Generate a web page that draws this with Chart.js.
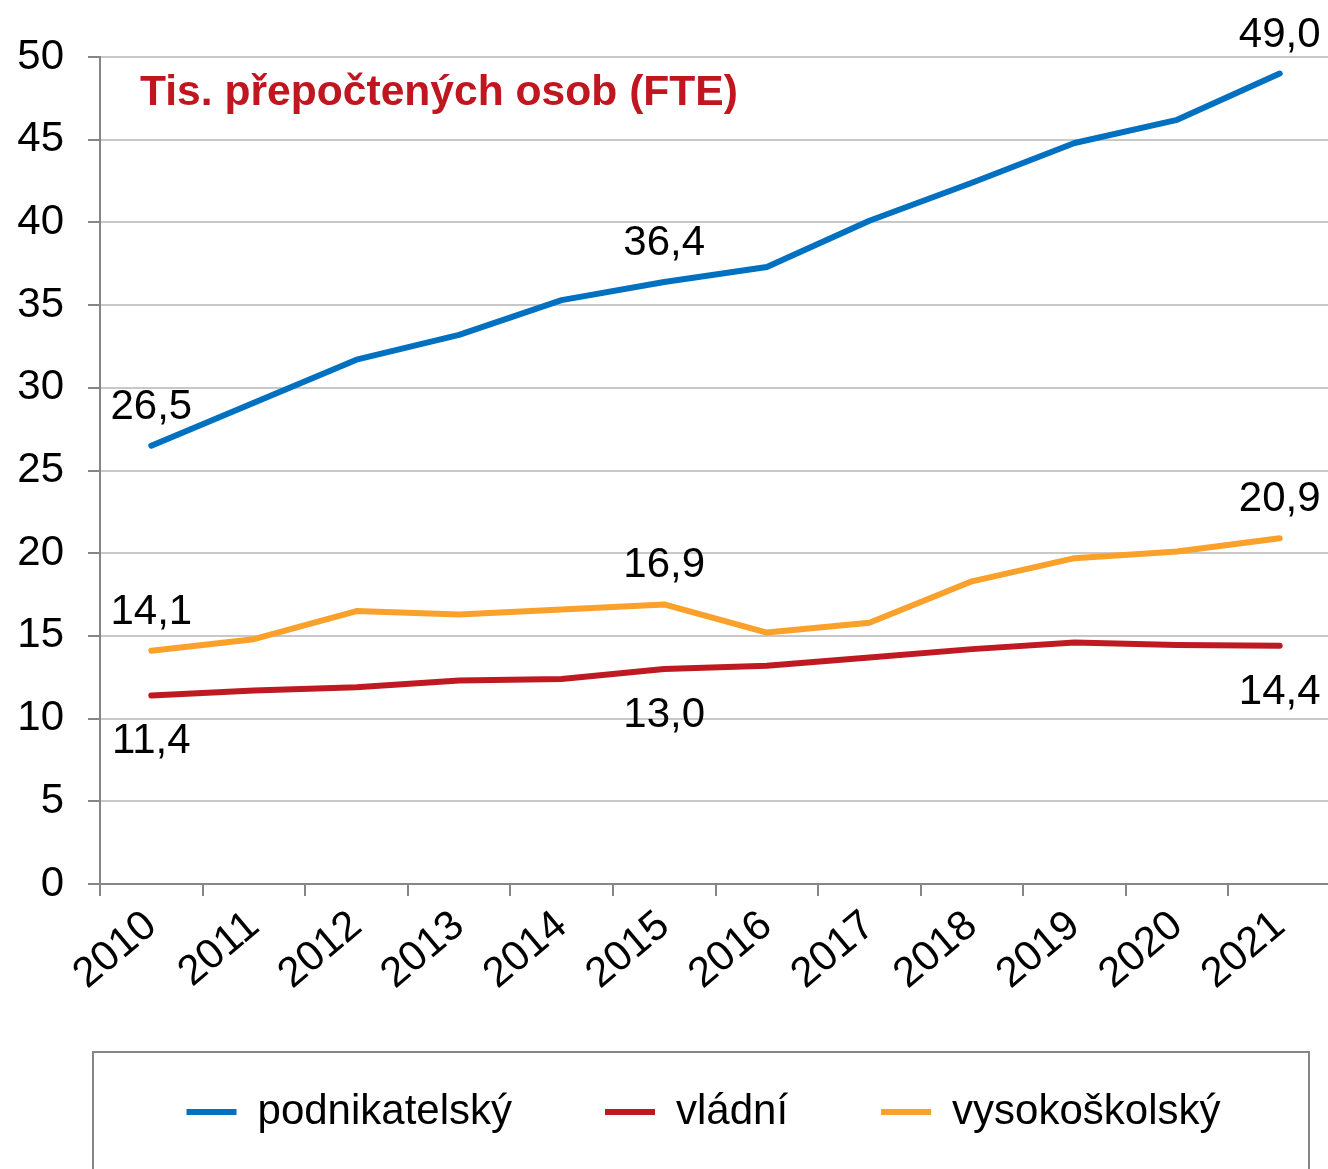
<!DOCTYPE html>
<html>
<head>
<meta charset="utf-8">
<script src="https://cdn.jsdelivr.net/npm/chart.js@4/dist/chart.umd.min.js"></script>
<style>
body { margin: 0; overflow: hidden; background: #fff; }
canvas { display: block; }
</style>
</head>
<body>
<canvas id="myChart" width="1332" height="1169"></canvas>
<script>
var years = ["2010", "2011", "2012", "2013", "2014", "2015", "2016", "2017", "2018", "2019", "2020", "2021"];
var podnikatelsky = [26.5, 29.1, 31.7, 33.2, 35.3, 36.4, 37.3, 40.1, 42.4, 44.8, 46.2, 49.0];
var vladni = [11.4, 11.7, 11.9, 12.3, 12.4, 13.0, 13.2, 13.7, 14.2, 14.6, 14.45, 14.4];
var vysokoskolsky = [14.1, 14.8, 16.5, 16.3, 16.6, 16.9, 15.2, 15.8, 18.3, 19.7, 20.1, 20.9];
var yTicks = [0, 5, 10, 15, 20, 25, 30, 35, 40, 45, 50];
var labelIdx = [0, 5, 11];
var titleText = "Tis. přepočtených osob (FTE)";

var font = '"Liberation Sans", Arial, sans-serif';
var axisGray = "#868686";

// values written next to the first, middle and last point
var pointLabels = {
  id: "pointLabels",
  afterDatasetsDraw: function(chart) {
    var ctx = chart.ctx;
    ctx.save();
    ctx.font = "42px " + font;
    ctx.fillStyle = "#000";
    ctx.textAlign = "center";
    ctx.textBaseline = "alphabetic";
    chart.data.datasets.forEach(function(ds, d) {
      var meta = chart.getDatasetMeta(d);
      labelIdx.forEach(function(i) {
        var p = meta.data[i];
        var txt = ds.data[i].toFixed(1).replace(".", ",");
        if (ds.labelBelow) {
          ctx.fillText(txt, p.x, p.y + 58);
        } else {
          ctx.fillText(txt, p.x, p.y - 27);
        }
      });
    });
    ctx.restore();
  }
};

var innerTitle = {
  id: "innerTitle",
  afterDraw: function(chart) {
    var ctx = chart.ctx;
    var a = chart.chartArea;
    ctx.save();
    ctx.font = "bold 42.6px " + font;
    ctx.fillStyle = "#C0161F";
    ctx.textAlign = "left";
    ctx.textBaseline = "alphabetic";
    ctx.fillText(titleText, a.left + 40, a.top + 48);
    ctx.restore();
  }
};

var legendFrame = {
  id: "legendFrame",
  afterLayout: function(chart) {
    chart.legend.left += 38;
    chart.legend.right += 38;
  },
  afterDraw: function(chart) {
    var ctx = chart.ctx;
    ctx.save();
    ctx.strokeStyle = axisGray;
    ctx.lineWidth = 2;
    ctx.strokeRect(93, 1052, 1216, 200);
    ctx.restore();
  }
};

new Chart("myChart", {
  type: "line",
  data: {
    labels: years,
    datasets: [
      { label: "podnikatelský", data: podnikatelsky, borderColor: "#0070C0", backgroundColor: "#0070C0" },
      { label: "vládní", data: vladni, borderColor: "#BF1A22", backgroundColor: "#BF1A22", labelBelow: true },
      { label: "vysokoškolský", data: vysokoskolsky, borderColor: "#F9A12B", backgroundColor: "#F9A12B" }
    ]
  },
  options: {
    responsive: false,
    animation: false,
    layout: { padding: { top: 57, right: 1, bottom: 26, left: 0 } },
    datasets: {
      line: { borderWidth: 6, tension: 0, borderCapStyle: "round", borderJoinStyle: "round", pointRadius: 0, pointHoverRadius: 0 }
    },
    scales: {
      x: {
        offset: true,
        afterFit: function(scale) { scale.height = 114; },
        grid: { offset: true, drawOnChartArea: false, drawTicks: true, tickLength: 12, tickColor: axisGray, lineWidth: 2 },
        border: { color: axisGray, width: 2 },
        ticks: { color: "#000", font: { family: font, size: 42 }, minRotation: 40, maxRotation: 40, padding: 5 }
      },
      y: {
        min: 0,
        max: 50,
        afterFit: function(scale) { scale.width = 100; },
        afterBuildTicks: function(scale) {
          scale.ticks = yTicks.map(function(v) { return { value: v }; });
        },
        grid: { color: "#C8C8C8", lineWidth: 2, tickLength: 12, tickColor: axisGray },
        border: { color: axisGray, width: 2 },
        ticks: { color: "#000", font: { family: font, size: 42 }, padding: 24 }
      }
    },
    plugins: {
      legend: {
        position: "bottom",
        labels: {
          usePointStyle: true,
          pointStyle: "line",
          pointStyleWidth: 50,
          padding: 93,
          color: "#000",
          font: { family: font, size: 42 }
        }
      },
      tooltip: { enabled: false }
    }
  },
  plugins: [pointLabels, innerTitle, legendFrame]
});
</script>
</body>
</html>
